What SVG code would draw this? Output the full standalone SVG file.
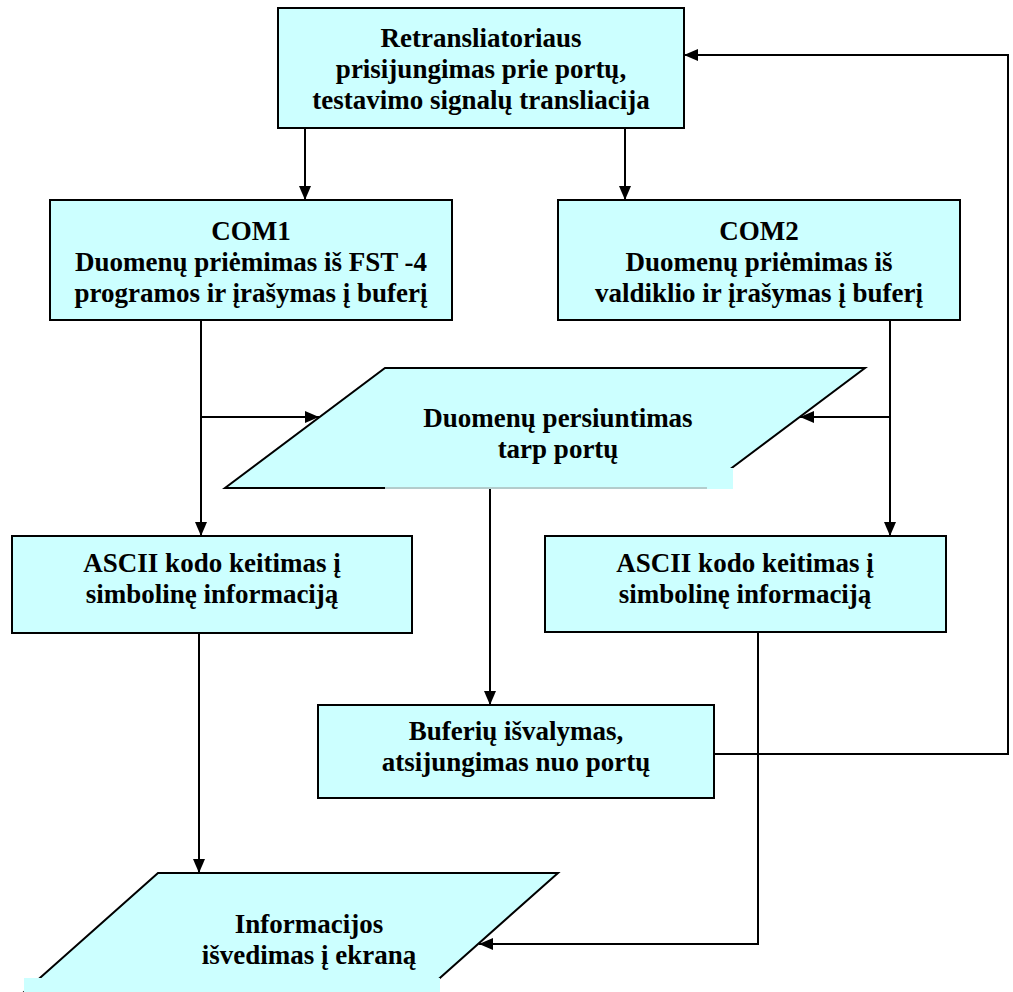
<svg xmlns="http://www.w3.org/2000/svg" width="1013" height="992" viewBox="0 0 1013 992">
<style>
.box{fill:#CCFFFF;stroke:#000;stroke-width:2}
.patch{fill:#CCFFFF;stroke:none}
.t{font-family:"Liberation Serif","Times New Roman",serif;font-weight:bold;font-size:27px;fill:#000;text-anchor:middle}
.c{fill:none;stroke:#000;stroke-width:2}
</style>
<defs>
<marker id="arr" markerUnits="userSpaceOnUse" markerWidth="14" markerHeight="12" refX="14" refY="6" orient="auto">
<path d="M0,0 L14,6 L0,12 z" fill="#000"/>
</marker>
</defs>
<rect width="1013" height="992" fill="#fff"/>

<g id="connectors">
<path class="c" d="M305,128 V200" marker-end="url(#arr)"/>
<path class="c" d="M625,128 V200" marker-end="url(#arr)"/>
<path class="c" d="M201,320 V536" marker-end="url(#arr)"/>
<path class="c" d="M201,417 H319" marker-end="url(#arr)"/>
<path class="c" d="M890,320 V536" marker-end="url(#arr)"/>
<path class="c" d="M890,417 H800" marker-end="url(#arr)"/>
<path class="c" d="M490,488 V705" marker-end="url(#arr)"/>
<path class="c" d="M199,633 V873" marker-end="url(#arr)"/>
<path class="c" d="M758,632 V944 H479" marker-end="url(#arr)"/>
<path class="c" d="M714,754 H1008 V55 H684" marker-end="url(#arr)"/>
</g>

<g id="n1">
<rect class="box" x="278" y="8" width="406" height="120"/>
<text class="t" x="481" y="47">Retransliatoriaus</text>
<text class="t" x="481" y="78">prisijungimas prie portų,</text>
<text class="t" x="481" y="109">testavimo signalų transliacija</text>
</g>

<g id="n2">
<rect class="box" x="50" y="200" width="402" height="120"/>
<text class="t" x="251" y="240">COM1</text>
<text class="t" x="251" y="271">Duomenų priėmimas iš FST -4</text>
<text class="t" x="251" y="302">programos ir įrašymas į buferį</text>
</g>

<g id="n3">
<rect class="box" x="558" y="200" width="402" height="120"/>
<text class="t" x="759" y="240">COM2</text>
<text class="t" x="759" y="271">Duomenų priėmimas iš</text>
<text class="t" x="759" y="302">valdiklio ir įrašymas į buferį</text>
</g>

<g id="n4">
<polygon class="box" points="385,368 865,368 705,488 225,488"/>
<rect class="patch" x="385" y="468" width="348" height="21"/>
<line x1="385" y1="488" x2="707" y2="488" stroke="#9a9a9a" stroke-width="1"/>
<text class="t" x="558" y="427">Duomenų persiuntimas</text>
<text class="t" x="558" y="458">tarp portų</text>
</g>

<g id="n5">
<rect class="box" x="12" y="536" width="400" height="97"/>
<text class="t" x="212" y="572">ASCII kodo keitimas į</text>
<text class="t" x="212" y="603">simbolinę informaciją</text>
</g>

<g id="n6">
<rect class="box" x="545" y="536" width="401" height="96"/>
<text class="t" x="745" y="572">ASCII kodo keitimas į</text>
<text class="t" x="745" y="603">simbolinę informaciją</text>
</g>

<g id="n7">
<rect class="box" x="318" y="705" width="396" height="93"/>
<text class="t" x="516" y="740">Buferių išvalymas,</text>
<text class="t" x="516" y="771">atsijungimas nuo portų</text>
</g>

<g id="n8">
<polygon class="box" points="158,873 558,873 423,993 23,993"/>
<rect class="patch" x="24" y="978" width="416" height="16"/>
<text class="t" x="309" y="933">Informacijos</text>
<text class="t" x="309" y="964">išvedimas į ekraną</text>
</g>
</svg>
